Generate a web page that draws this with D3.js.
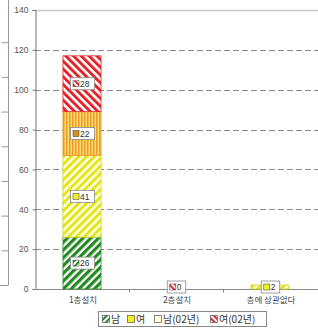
<!DOCTYPE html>
<html>
<head>
<meta charset="utf-8">
<style>
body { margin: 0; background: #fff; }
svg { font-family: "Liberation Sans", "Noto Sans CJK KR", sans-serif; }
</style>
<script src="https://d3js.org/d3.v7.min.js"></script>
</head>
<body>
<svg id="chart" width="318" height="331"></svg>
<script>

var width = 318;
var height = 331;

// categories and series
var categories = ["1층설치", "2층설치", "층에 상관없다"];
var seriesNames = ["남", "여", "남(02년)", "여(02년)"];
// null = no bar / no label
var male = [26, null, null];
var female = [41, null, 2];
var male02 = [22, null, null];
var female02 = [28, 0, null];
var yTicks = [0, 20, 40, 60, 80, 100, 120, 140];

var seriesValues = [male, female, male02, female02];

// styles per series
var patternIds = ["pGreen", "pYellow", "pOrange", "pRed"];
var strokeColors = ["#2a8c2a", "#d4d420", "#e89a20", "#e02828"];
var legendFills = ["url(#pGreenKey)", "#f0f020", "#ffffd8", "url(#pRedKey)"];
var labelFills = ["url(#pGreenKey)", "#f0f020", "#d89020", "url(#pRedKey)"];

var svg = d3.select("#chart");

// patterns
var defs = svg.append("defs");

function diag(id, angle, fg, bg, period, stripe) {
    var p = defs.append("pattern")
        .attr("id", id)
        .attr("patternUnits", "userSpaceOnUse")
        .attr("width", period)
        .attr("height", period)
        .attr("patternTransform", "rotate(" + angle + ")");
    p.append("rect").attr("width", period).attr("height", period).attr("fill", bg);
    p.append("rect").attr("width", stripe).attr("height", period).attr("fill", fg);
}
diag("pGreen", 45, "#238a23", "#ffffff", 5.5, 3.2);
diag("pYellow", 45, "#e4e41c", "#ffffd8", 5.5, 2.8);
diag("pOrange", 0, "#ee9a28", "#ffdc70", 3, 1.5);
diag("pRed", -45, "#e2242a", "#ffffff", 5.5, 2.9);
diag("pGreenKey", 45, "#238a23", "#ffffff", 4, 2);
diag("pRedKey", -45, "#e2242a", "#ffffff", 4, 2);

// scales
var y = d3.scaleLinear().domain([0, 140]).range([289, 10]);
var x = d3.scaleBand().domain(categories).range([35, 317]).padding(0);
var barW = x.bandwidth() * 0.405;

// cropped neighbour chart on the left edge
var yLeft = d3.scaleLinear().domain([0, 8]).range([285, 7.5]);
svg.append("g")
    .attr("transform", "translate(8.5,0)")
    .call(d3.axisLeft(yLeft).tickValues([1, 2, 3, 4, 5, 6, 7]).tickSize(7).tickFormat(""))
    .call(function(g) {
        g.select(".domain").remove();
        g.selectAll("line").attr("stroke", "#999");
    });
svg.append("line").attr("x1", 8.5).attr("x2", 8.5).attr("y1", 0).attr("y2", yLeft(0)).attr("stroke", "#999");
svg.append("line").attr("x1", 0).attr("x2", 8.5).attr("y1", yLeft(0) + 0.5).attr("y2", yLeft(0) + 0.5).attr("stroke", "#999");

// grid lines
svg.append("g")
    .selectAll("line")
    .data(yTicks.filter(function(d) { return d > 0 && d < 140; }))
    .enter().append("line")
    .attr("x1", 35).attr("x2", width)
    .attr("y1", function(d) { return Math.round(y(d)) + 0.5; })
    .attr("y2", function(d) { return Math.round(y(d)) + 0.5; })
    .attr("stroke", "#8a8a8a")
    .attr("stroke-dasharray", "6,3");

// top border
svg.append("line")
    .attr("x1", 35).attr("x2", width)
    .attr("y1", y(140) + 0.5).attr("y2", y(140) + 0.5)
    .attr("stroke", "#c8c8c8").attr("stroke-width", 1.5);

// y axis
svg.append("g")
    .attr("transform", "translate(35.5,0)")
    .call(d3.axisLeft(y).tickValues(yTicks).tickSize(3).tickPadding(4))
    .call(function(g) {
        g.select(".domain").attr("stroke", "#777");
        g.selectAll("line").attr("stroke", "#777");
        g.selectAll("text").attr("fill", "#555").style("font-size", "8.5px");
    });

// x axis line and ticks between categories
svg.append("line")
    .attr("x1", 35).attr("x2", width)
    .attr("y1", y(0) + 0.5).attr("y2", y(0) + 0.5)
    .attr("stroke", "#888");
svg.append("g")
    .selectAll("line")
    .data(categories.slice(1))
    .enter().append("line")
    .attr("x1", function(d) { return Math.round(x(d)) + 0.5; })
    .attr("x2", function(d) { return Math.round(x(d)) + 0.5; })
    .attr("y1", y(0)).attr("y2", y(0) + 3.5)
    .attr("stroke", "#888");

svg.append("g")
    .selectAll("text")
    .data(categories)
    .enter().append("text")
    .attr("x", function(d) { return x(d) + x.bandwidth() / 2 + 1; })
    .attr("y", 303)
    .attr("text-anchor", "middle")
    .attr("fill", "#444")
    .style("font-size", "8.5px")
    .style("font-family", "'Noto Sans CJK KR', sans-serif")
    .text(function(d) { return d; });

// stack the data
var rows = categories.map(function(c, i) {
    var r = { cat: c };
    seriesNames.forEach(function(s, j) { r[s] = seriesValues[j][i] || 0; });
    return r;
});
var stacked = d3.stack().keys(seriesNames)(rows);

var segs = [];
stacked.forEach(function(layer, j) {
    layer.forEach(function(d, i) {
        if (seriesValues[j][i] === null) return;
        segs.push({ s: j, cat: categories[i], y0: d[0], y1: d[1], v: seriesValues[j][i] });
    });
});

// bars
svg.append("g")
    .selectAll("rect")
    .data(segs.filter(function(d) { return d.v > 0; }))
    .enter().append("rect")
    .attr("x", function(d) { return x(d.cat) + (x.bandwidth() - barW) / 2; })
    .attr("y", function(d) { return y(d.y1); })
    .attr("width", barW)
    .attr("height", function(d) { return y(d.y0) - y(d.y1); })
    .attr("fill", function(d) { return "url(#" + patternIds[d.s] + ")"; })
    .attr("stroke", function(d) { return strokeColors[d.s]; })
    .attr("stroke-width", 0.8);

// data labels
var lab = svg.append("g")
    .selectAll("g")
    .data(segs)
    .enter().append("g")
    .attr("transform", function(d) {
        var cx = x(d.cat) + x.bandwidth() / 2;
        var cy = (y(d.y0) + y(d.y1)) / 2;
        if (d.v === 0) cy = y(0) - 2;
        return "translate(" + cx + "," + cy + ")";
    });

lab.each(function(d) {
    var g = d3.select(this);
    var t = String(d.v);
    var w = 13 + t.length * 5.5;
    g.append("rect")
        .attr("x", -w / 2 + 0.5).attr("y", -6)
        .attr("width", w).attr("height", 12)
        .attr("fill", "#fff").attr("stroke", "#888").attr("stroke-width", 0.8);
    g.append("rect")
        .attr("x", -w / 2 + 3).attr("y", -3)
        .attr("width", 6).attr("height", 6)
        .attr("fill", labelFills[d.s]).attr("stroke", "#555").attr("stroke-width", 0.6);
    g.append("text")
        .attr("x", -w / 2 + 10).attr("y", 3.2)
        .attr("fill", "#333")
        .style("font-size", "8.5px")
        .text(t);
});

// legend
var legX = [102, 127, 154, 210];
var legend = svg.append("g");
legend.append("rect")
    .attr("x", 98.5).attr("y", 311.5)
    .attr("width", 168).attr("height", 15)
    .attr("fill", "#fff").attr("stroke", "#888");
var li = legend.selectAll("g.item")
    .data(seriesNames)
    .enter().append("g")
    .attr("class", "item")
    .attr("transform", function(d, i) { return "translate(" + legX[i] + ",319)"; });
li.append("rect")
    .attr("x", 0.5).attr("y", -3.5)
    .attr("width", 7).attr("height", 7)
    .attr("fill", function(d, i) { return legendFills[i]; })
    .attr("stroke", "#555").attr("stroke-width", 0.7);
li.append("text")
    .attr("x", 9).attr("y", 3.8)
    .attr("fill", "#333")
    .style("font-size", "10px")
    .style("font-family", "'Noto Sans CJK KR', sans-serif")
    .text(function(d) { return d; });

</script>
</body>
</html>
